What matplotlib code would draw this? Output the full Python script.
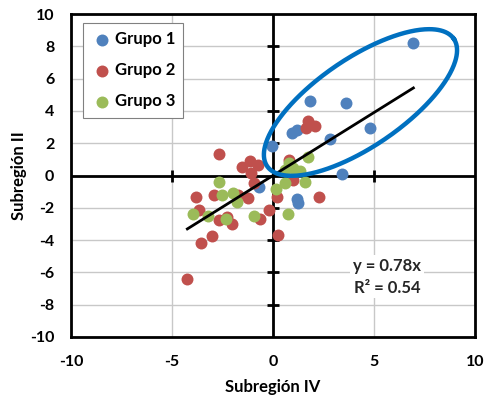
import numpy as np
import matplotlib
matplotlib.use("Agg")
import matplotlib.pyplot as plt

plt.rcParams['font.family'] = ['Lato', 'DejaVu Sans']
plt.rcParams['axes.unicode_minus'] = False

# Data
g1_x = [6.95, 1.83, 3.60, 4.80, 2.82, 0.93, 1.20, -0.05, 3.43, -0.68, 1.25, 1.20]
g1_y = [8.20, 4.63, 4.47, 2.92, 2.24, 2.61, 2.82, 1.85, 0.07, -0.69, -1.68, -1.45]

g2_x = [1.75, 2.08, 1.62, -2.69, -1.15, -1.55, -0.73, -1.09, 0.78, -0.93, 1.00,
        -3.83, -2.92, -1.72, -1.22, 0.21, 2.28, -3.65, -2.66, -2.05, -0.64, -0.18,
        -3.00, -3.55, -4.24, 0.26, -2.29]
g2_y = [3.39, 3.07, 2.92, 1.31, 0.92, 0.55, 0.65, 0.13, 0.96, -0.44, -0.28,
        -1.31, -1.21, -1.21, -1.41, -1.35, -1.31, -2.14, -2.76, -3.02, -2.71, -2.14,
        -3.75, -4.20, -6.41, -3.70, -2.55]

g3_x = [1.75, 0.80, 1.00, 1.35, 0.60, 1.58, 0.59, 0.15, -2.66, -2.51, -2.00,
        -1.77, -3.95, -3.20, -2.33, -0.93, 0.73]
g3_y = [1.16, 0.80, 0.45, 0.30, 0.35, -0.38, -0.45, -0.85, -0.38, -1.21, -1.10,
        -1.62, -2.40, -2.51, -2.71, -2.51, -2.38]

slope = 0.78
r2 = 0.54
trend_x = [-4.24, 6.95]

x_ticks = [-10, -5, 0, 5, 10]
y_ticks = [-10, -8, -6, -4, -2, 0, 2, 4, 6, 8, 10]

blue = '#4F81BD'
red = '#C0504D'
green = '#9BBB59'

fig = plt.figure(figsize=(4.85, 3.96), dpi=100)
ax = fig.add_axes([71/485, 1-337/396, 404/485, 323/396])
ax.set_xlim(-10, 10)
ax.set_ylim(-10, 10)

# grid
for xv in x_ticks:
    ax.axvline(xv, color='#C8C8C8', lw=1.0, zorder=0)
for yv in y_ticks:
    ax.axhline(yv, color='#C8C8C8', lw=1.0, zorder=0)

# zero axes
ax.axhline(0, color='black', lw=2.0, zorder=1)
ax.axvline(0, color='black', lw=2.0, zorder=1)
# tick marks on zero axes
yt = [v for v in y_ticks if v not in (-10, 0, 10)]
ax.plot(np.zeros(len(yt)), yt, ls='none', marker='_', ms=8, mew=2.0, color='black', zorder=1)
xt = [v for v in x_ticks if v not in (-10, 0, 10)]
ax.plot(xt, np.zeros(len(xt)), ls='none', marker='|', ms=8, mew=2.0, color='black', zorder=1)

ms = 74
ax.scatter(g1_x, g1_y, s=ms, color=blue, label='Grupo 1', zorder=3, linewidths=0)
ax.scatter(g2_x, g2_y, s=ms, color=red, label='Grupo 2', zorder=3, linewidths=0)
ax.scatter(g3_x, g3_y, s=ms, color=green, label='Grupo 3', zorder=3, linewidths=0)

tx = np.array(trend_x)
ax.plot(tx, slope * tx, color='black', lw=2.0, zorder=4)

# highlight ellipse (drawn in screen-proportional units)
sx, sy = 20.2, 16.15  # px per data unit
cx, cy = 4.33, 4.52
a, b = 113.0, 44.0
th = np.deg2rad(34.3)
t = np.linspace(0, 2*np.pi, 400)
ex = cx + (a*np.cos(t)*np.cos(th) - b*np.sin(t)*np.sin(th)) / sx
ey = cy + (a*np.cos(t)*np.sin(th) + b*np.sin(t)*np.cos(th)) / sy
ax.plot(ex, ey, color='#0070C0', lw=3.2, zorder=5)

ax.text(5.64, -6.28, f'y = {slope:.2f}x\nR² = {r2:.2f}',
        ha='center', va='center', fontsize=12, fontweight='bold', color='#262626',
        linespacing=1.4, bbox=dict(facecolor='white', edgecolor='none', pad=2), zorder=6)

leg = ax.legend(loc='upper left', bbox_to_anchor=(12/404, 1-9/323), borderaxespad=0,
                frameon=True, fancybox=False,
                edgecolor='#808080', framealpha=1, borderpad=0.5, labelspacing=0.9,
                handletextpad=0.1, handlelength=1.3, prop={'weight': 'bold', 'size': 12})
leg.get_frame().set_linewidth(0.8)
leg.set_zorder(7)

ax.set_xticks(x_ticks)
ax.set_yticks(y_ticks)
ax.tick_params(length=0, labelsize=11.5)
ax.tick_params(axis='x', pad=13)
ax.tick_params(axis='y', pad=12)
for lab in ax.get_xticklabels() + ax.get_yticklabels():
    lab.set_fontweight('bold')
ax.set_xlabel('Subregión IV', fontsize=12, fontweight='bold', labelpad=7)
ax.set_ylabel('Subregión II', fontsize=12, fontweight='bold', labelpad=2)
for s in ax.spines.values():
    s.set_linewidth(2.0)
    s.set_color('black')
    s.set_zorder(8)

fig.savefig('out.png', dpi=100)
